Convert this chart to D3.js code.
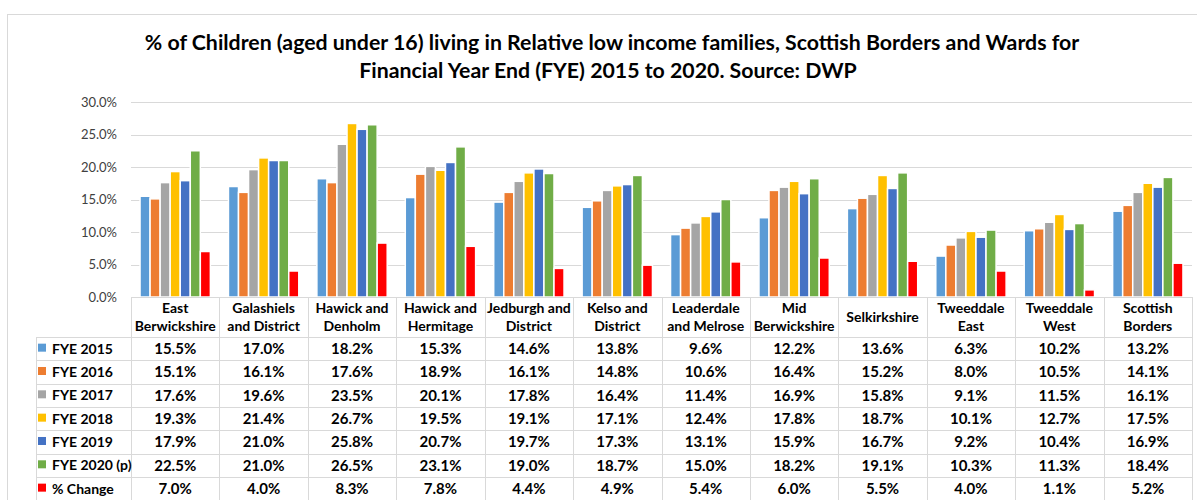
<!DOCTYPE html>
<html>
<head>
<meta charset="utf-8">
<script src="https://cdn.jsdelivr.net/npm/d3@7"></script>
<style>
  html, body { margin: 0; padding: 0; background: #fff; }
  svg { display: block; font-family: Lato, "Open Sans", sans-serif; }
</style>
</head>
<body>
<div id="chart"></div>
<script>
const width = 1197;
const height = 500;

const categories = [
  ["East", "Berwickshire"],
  ["Galashiels", "and District"],
  ["Hawick and", "Denholm"],
  ["Hawick and", "Hermitage"],
  ["Jedburgh and", "District"],
  ["Kelso and", "District"],
  ["Leaderdale", "and Melrose"],
  ["Mid", "Berwickshire"],
  ["Selkirkshire"],
  ["Tweeddale", "East"],
  ["Tweeddale", "West"],
  ["Scottish", "Borders"]
];

const seriesNames = ["FYE 2015", "FYE 2016", "FYE 2017", "FYE 2018", "FYE 2019", "FYE 2020 (p)", "% Change"];
const seriesColors = ["#5b9bd5", "#ed7d31", "#a5a5a5", "#ffc000", "#4472c4", "#70ad47", "#ff0000"];

const fye2015 = [15.5, 17.0, 18.2, 15.3, 14.6, 13.8, 9.6, 12.2, 13.6, 6.3, 10.2, 13.2];
const fye2016 = [15.1, 16.1, 17.6, 18.9, 16.1, 14.8, 10.6, 16.4, 15.2, 8.0, 10.5, 14.1];
const fye2017 = [17.6, 19.6, 23.5, 20.1, 17.8, 16.4, 11.4, 16.9, 15.8, 9.1, 11.5, 16.1];
const fye2018 = [19.3, 21.4, 26.7, 19.5, 19.1, 17.1, 12.4, 17.8, 18.7, 10.1, 12.7, 17.5];
const fye2019 = [17.9, 21.0, 25.8, 20.7, 19.7, 17.3, 13.1, 15.9, 16.7, 9.2, 10.4, 16.9];
const fye2020 = [22.5, 21.0, 26.5, 23.1, 19.0, 18.7, 15.0, 18.2, 19.1, 10.3, 11.3, 18.4];
const pctChange = [7.0, 4.0, 8.3, 7.8, 4.4, 4.9, 5.4, 6.0, 5.5, 4.0, 1.1, 5.2];

const yTicks = [0, 5, 10, 15, 20, 25, 30];

const seriesValues = [fye2015, fye2016, fye2017, fye2018, fye2019, fye2020, pctChange];

const gridColor = "#d9d9d9";
const textColor = "#000";
const fmt = (v) => d3.format(".1f")(v) + "%";

const svg = d3.select("#chart").append("svg")
  .attr("width", width)
  .attr("height", height);

// outer chart border
svg.append("rect")
  .attr("x", 7.5).attr("y", 14.5)
  .attr("width", width + 10).attr("height", height + 10)
  .attr("fill", "none").attr("stroke", gridColor);

// title
const title = svg.append("text")
  .attr("text-anchor", "middle")
  .style("font-weight", "700")
  .style("font-size", "21.3px")
  .style("fill", textColor);
title.append("tspan").attr("x", 612).attr("y", 50)
  .text("% of Children (aged under 16) living in Relative low income families, Scottish Borders and Wards for");
title.append("tspan").attr("x", 608).attr("y", 78)
  .text("Financial Year End (FYE) 2015 to 2020. Source: DWP");

const plotLeft = 131;
const plotRight = 1192;
const plotTop = 102;
const plotBottom = 297;

const x0 = d3.scaleBand()
  .domain(d3.range(categories.length))
  .range([plotLeft, plotRight])
  .paddingInner(0)
  .paddingOuter(0);

const x1 = d3.scaleBand()
  .domain(d3.range(seriesNames.length))
  .range([0, x0.bandwidth()])
  .paddingInner(0)
  .paddingOuter(0.9);

const y = d3.scaleLinear().domain([0, 30]).range([plotBottom, plotTop]);

// gridlines
svg.append("g")
  .selectAll("line")
  .data(yTicks)
  .join("line")
  .attr("x1", plotLeft).attr("x2", plotRight)
  .attr("y1", (d) => Math.round(y(d)) + 0.5)
  .attr("y2", (d) => Math.round(y(d)) + 0.5)
  .attr("stroke", gridColor)
  .attr("stroke-width", 1);

// y axis labels
svg.append("g")
  .selectAll("text")
  .data(yTicks)
  .join("text")
  .attr("x", 117)
  .attr("y", (d) => y(d))
  .attr("dy", "0.35em")
  .attr("text-anchor", "end")
  .style("font-size", "13px")
  .style("fill", "#404040")
  .text((d) => d3.format(".1f")(d) + "%");

// bars
const groups = svg.append("g")
  .selectAll("g")
  .data(categories.map((c, i) => i))
  .join("g")
  .attr("transform", (i) => `translate(${x0(i)},0)`);

groups.selectAll("rect")
  .data((i) => seriesValues.map((s, k) => ({ k, v: s[i] })))
  .join("rect")
  .attr("x", (d) => x1(d.k))
  .attr("width", x1.bandwidth())
  .attr("y", (d) => y(d.v))
  .attr("height", (d) => y(0) - y(d.v))
  .attr("fill", (d) => seriesColors[d.k])
  .attr("stroke", "#fff")
  .attr("stroke-width", 1.5);

// data table
const tableLeft = 36;
const headerBottom = 337;
const rowH = 23.33;
const lineColor = gridColor;

const table = svg.append("g");

// header vertical lines
const colEdges = d3.range(categories.length + 1).map((i) =>
  i < categories.length ? x0(i) : plotRight);

table.selectAll("line.vcol")
  .data(colEdges)
  .join("line")
  .attr("class", "vcol")
  .attr("x1", (d) => Math.round(d) + 0.5).attr("x2", (d) => Math.round(d) + 0.5)
  .attr("y1", plotBottom).attr("y2", height)
  .attr("stroke", lineColor);

// legend column left edge
table.append("line")
  .attr("x1", tableLeft + 0.5).attr("x2", tableLeft + 0.5)
  .attr("y1", headerBottom).attr("y2", height)
  .attr("stroke", lineColor);

// horizontal lines
table.append("line")
  .attr("x1", plotLeft).attr("x2", plotRight)
  .attr("y1", plotBottom + 0.5).attr("y2", plotBottom + 0.5)
  .attr("stroke", lineColor);

table.selectAll("line.hrow")
  .data(d3.range(seriesNames.length + 1))
  .join("line")
  .attr("class", "hrow")
  .attr("x1", tableLeft).attr("x2", plotRight)
  .attr("y1", (r) => Math.round(headerBottom + r * rowH) + 0.5)
  .attr("y2", (r) => Math.round(headerBottom + r * rowH) + 0.5)
  .attr("stroke", lineColor);

// category headers
table.selectAll("text.cat")
  .data(categories)
  .join("text")
  .attr("class", "cat")
  .attr("text-anchor", "middle")
  .style("font-size", "14px")
  .style("font-weight", "700")
  .style("fill", textColor)
  .each(function (lines, i) {
    const t = d3.select(this);
    const cx = x0(i) + x0.bandwidth() / 2;
    if (lines.length === 1) {
      t.append("tspan").attr("x", cx).attr("y", 322).text(lines[0]);
    } else {
      t.append("tspan").attr("x", cx).attr("y", 313).text(lines[0]);
      t.append("tspan").attr("x", cx).attr("y", 331).text(lines[1]);
    }
  });

// legend keys + labels
const rows = table.selectAll("g.row")
  .data(seriesNames)
  .join("g")
  .attr("class", "row")
  .attr("transform", (d, r) => `translate(0,${headerBottom + r * rowH})`);

rows.append("rect")
  .attr("x", 38).attr("y", rowH / 2 - 5)
  .attr("width", 8).attr("height", 8)
  .attr("fill", (d, r) => seriesColors[r]);

rows.append("text")
  .attr("x", 52).attr("y", rowH / 2)
  .attr("dy", "0.35em")
  .style("font-size", "14px")
  .style("font-weight", "700")
  .style("fill", textColor)
  .text((d) => d);

rows.selectAll("text.val")
  .data((d, r) => seriesValues[r])
  .join("text")
  .attr("class", "val")
  .attr("x", (v, i) => x0(i) + x0.bandwidth() / 2)
  .attr("y", rowH / 2)
  .attr("dy", "0.35em")
  .attr("text-anchor", "middle")
  .style("font-size", "15px")
  .style("font-weight", "700")
  .style("fill", textColor)
  .text((v) => fmt(v));
</script>
</body>
</html>
